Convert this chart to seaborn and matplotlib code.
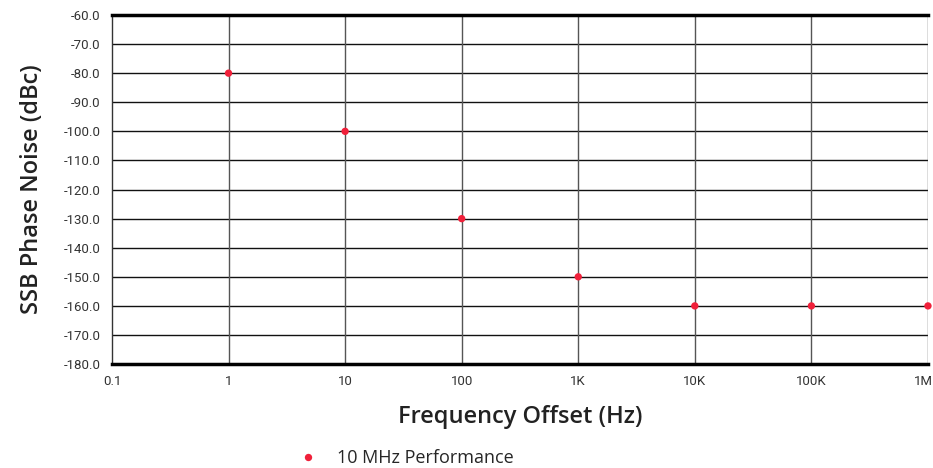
import numpy as np
import pandas as pd
import seaborn as sns
import matplotlib.pyplot as plt
import matplotlib.transforms as mtransforms

freq = [1, 10, 100, 1000, 10000, 100000, 1000000]
noise = [-80, -100, -130, -150, -160, -160, -160]
series = "10 MHz Performance"

x_ticks = [0.1, 1, 10, 100, 1000, 10000, 100000, 1000000]
x_labels = ["0.1", "1", "10", "100", "1K", "10K", "100K", "1M"]
y_ticks = list(range(-180, -59, 10))

df = pd.DataFrame({"freq": freq, "noise": noise, "series": series})

sns.set_style("white")
plt.rcParams['font.family'] = ['Open Sans', 'DejaVu Sans']

fig = plt.figure(figsize=(9.33, 4.68), dpi=100)
ax = fig.add_axes([0.12, 0.222, 0.8746, 0.746])

sns.scatterplot(data=df, x="freq", y="noise", hue="series", palette=["#f0203a"],
                s=28, edgecolor="none", ax=ax, zorder=5, clip_on=False)

ax.set_xscale("log")
ax.set_xlim(0.1, 1000000)
ax.set_ylim(-180, -60)
ax.set_xticks(x_ticks)
ax.set_xticklabels(x_labels, fontsize=9.5, color="#333333", family="Roboto")
ax.minorticks_off()
ax.set_yticks(y_ticks)
ax.set_yticklabels([f"{v:.1f}" for v in y_ticks], fontsize=9.5, color="#333333", family="Roboto")
ax.tick_params(axis="both", length=0)
ax.tick_params(axis="x", pad=8)
ax.tick_params(axis="y", pad=8)

last = ax.get_xticklabels()[-1]
last.set_ha("right")
last.set_transform(last.get_transform() + mtransforms.ScaledTranslation(5 / 100, 0, fig.dpi_scale_trans))

for yv in y_ticks[1:-1]:
    ax.axhline(yv, color="#111111", lw=1.0, zorder=1)
for xv in x_ticks[1:]:
    ax.axvline(xv, color="#555555", lw=1.0, zorder=1)

for side in ["top", "bottom"]:
    ax.spines[side].set_linewidth(2.5)
    ax.spines[side].set_color("black")
ax.spines["left"].set_linewidth(1.0)
ax.spines["left"].set_color("#333333")
ax.spines["right"].set_visible(False)

ax.set_xlabel("Frequency Offset (Hz)", fontsize=17, fontweight="semibold", color="#222222", labelpad=12)
ax.set_ylabel("SSB Phase Noise (dBc)", fontsize=17, fontweight="semibold", color="#222222", labelpad=14)

ax.legend(loc="center", bbox_to_anchor=(0.355, -0.27), frameon=False,
          fontsize=13, handletextpad=0.6, markerscale=1.0)

fig.savefig("out.png", dpi=100)
